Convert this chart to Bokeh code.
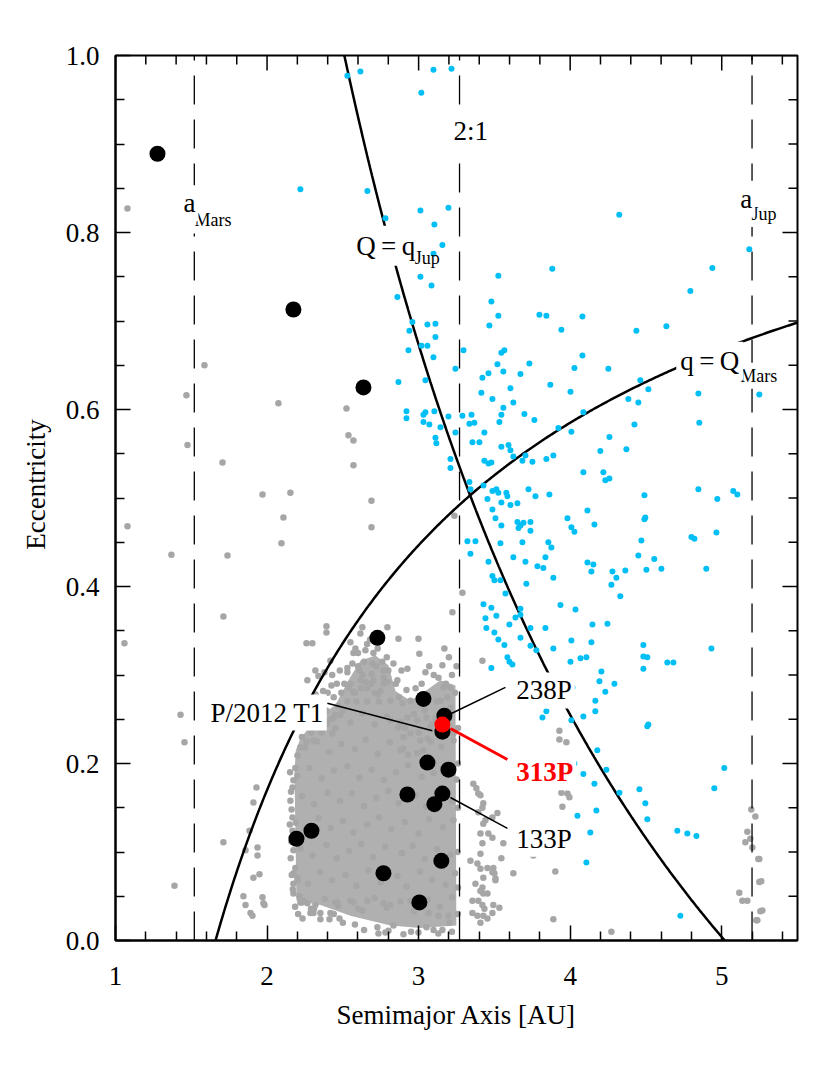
import numpy as np
from bokeh.plotting import figure
from bokeh.models import Range1d, FixedTicker, NumeralTickFormatter, Label
from bokeh.embed import file_html
from bokeh.resources import INLINE

FONT = "Liberation Serif"

# ---------------- data ----------------
A_MARS = 1.52
A_21 = 3.27
A_JUP = 5.2
Q_MARS = 1.66      # aphelion of Mars
Q_JUP_PERI = 5.02  # perihelion of Jupiter

x_major = [1, 2, 3, 4, 5]
x_minor = [1.2, 1.4, 1.6, 1.8, 2.2, 2.4, 2.6, 2.8, 3.2, 3.4, 3.6, 3.8,
           4.2, 4.4, 4.6, 4.8, 5.2, 5.4]
y_major = [0.0, 0.2, 0.4, 0.6, 0.8, 1.0]
y_minor = [0.05, 0.1, 0.15, 0.25, 0.3, 0.35, 0.45, 0.5, 0.55, 0.65, 0.7, 0.75,
           0.85, 0.9, 0.95]

# envelope of the densely populated main belt
core_a = [2.194, 2.181, 2.190, 2.220, 2.319, 2.451, 2.537, 2.616, 2.715, 2.801, 2.847, 2.946,
          3.045, 3.144, 3.243, 3.249, 3.012, 2.814, 2.550, 2.352]
core_e = [0.045, 0.190, 0.215, 0.228, 0.250, 0.266, 0.294, 0.316, 0.322, 0.311, 0.282, 0.271,
          0.282, 0.294, 0.288, 0.017, 0.014, 0.017, 0.028, 0.040]

gray_core = [
    (2.23, 0.043), (2.31, 0.036), (2.38, 0.047), (2.47, 0.039), (2.55, 0.045), (2.63, 0.034),
    (2.71, 0.048), (2.79, 0.037), (2.88, 0.044), (2.97, 0.033), (3.06, 0.046), (3.14, 0.038),
    (3.22, 0.049), (2.20, 0.071), (2.27, 0.064), (2.35, 0.077), (2.43, 0.068), (2.52, 0.074),
    (2.59, 0.062), (2.67, 0.079), (2.75, 0.066), (2.86, 0.073), (2.92, 0.061), (3.01, 0.078),
    (3.09, 0.069), (3.18, 0.063), (3.24, 0.076), (2.22, 0.104), (2.30, 0.096), (2.39, 0.108),
    (2.46, 0.093), (2.54, 0.101), (2.62, 0.109), (2.70, 0.094), (2.78, 0.106), (2.89, 0.099),
    (2.96, 0.107), (3.04, 0.092), (3.12, 0.103), (3.21, 0.097), (2.19, 0.133), (2.26, 0.124),
    (2.34, 0.138), (2.42, 0.127), (2.50, 0.135), (2.57, 0.122), (2.66, 0.131), (2.74, 0.139),
    (2.82, 0.126), (2.91, 0.134), (3.00, 0.121), (3.07, 0.137), (3.16, 0.128), (3.23, 0.136),
    (2.23, 0.163), (2.31, 0.154), (2.40, 0.167), (2.48, 0.158), (2.56, 0.166), (2.64, 0.152),
    (2.72, 0.161), (2.80, 0.169), (2.87, 0.155), (2.98, 0.164), (3.05, 0.151), (3.13, 0.168),
    (3.22, 0.157), (2.20, 0.186), (2.28, 0.195), (2.36, 0.183), (2.44, 0.192), (2.53, 0.197),
    (2.61, 0.184), (2.69, 0.193), (2.77, 0.181), (2.85, 0.190), (2.93, 0.198), (3.02, 0.185),
    (3.10, 0.189), (3.19, 0.196), (3.25, 0.182), (2.25, 0.218), (2.33, 0.225), (2.41, 0.213),
    (2.49, 0.222), (2.58, 0.216), (2.65, 0.227), (2.73, 0.211), (2.81, 0.224), (2.90, 0.217),
    (2.99, 0.212), (3.06, 0.228), (3.15, 0.219), (3.23, 0.226), (2.37, 0.248), (2.45, 0.255),
    (2.55, 0.246), (2.63, 0.257), (2.71, 0.244), (2.79, 0.253), (2.88, 0.247), (2.97, 0.256),
    (3.09, 0.245), (3.20, 0.251), (2.57, 0.281), (2.65, 0.292), (2.73, 0.278), (2.92, 0.283),
    (3.06, 0.277), (3.21, 0.286), (2.61, 0.305), (2.69, 0.301), (2.77, 0.297)]

gray_outer = [(1.079, 0.827), (1.468, 0.616), (1.475, 0.560), (1.079, 0.468), (1.369, 0.436),
              (1.059, 0.336), (1.429, 0.255), (1.455, 0.224), (1.389, 0.062), (1.587, 0.650),
              (1.706, 0.540), (1.739, 0.435), (1.712, 0.366), (2.075, 0.607), (1.970, 0.504),
              (2.154, 0.506), (2.108, 0.478), (2.095, 0.449), (2.524, 0.601), (2.537, 0.571),
              (2.570, 0.565), (2.570, 0.537), (2.689, 0.497), (2.689, 0.467)]

gray_inner_left = [(1.930, 0.173), (1.910, 0.156), (1.884, 0.124), (1.712, 0.111), (1.858, 0.102),
                   (1.937, 0.105), (1.937, 0.096), (1.910, 0.071), (1.950, 0.075), (1.844, 0.050),
                   (1.970, 0.049), (1.858, 0.040), (1.891, 0.031), (1.983, 0.040), (1.904, 0.028),
                   (1.976, 0.042)]

gray_band1 = [(2.392, 0.355), (2.392, 0.348), (2.299, 0.336), (2.260, 0.336), (2.418, 0.316),
              (2.319, 0.305), (2.339, 0.299), (2.379, 0.303), (2.266, 0.294), (2.425, 0.288),
              (2.530, 0.308), (2.220, 0.249), (2.266, 0.241), (2.319, 0.245), (2.352, 0.243),
              (2.398, 0.245), (2.438, 0.251), (2.484, 0.255), (2.431, 0.234), (2.306, 0.226),
              (2.220, 0.218), (2.201, 0.209), (2.187, 0.195), (2.174, 0.181), (2.168, 0.173),
              (2.154, 0.158), (2.168, 0.139), (2.168, 0.124), (2.174, 0.102), (2.187, 0.082),
              (2.201, 0.068), (2.174, 0.053), (2.220, 0.043), (2.266, 0.042), (2.319, 0.040),
              (2.352, 0.031), (2.418, 0.031), (2.464, 0.043), (2.286, 0.031), (2.23, 0.23),
              (2.26, 0.225), (2.29, 0.235), (2.33, 0.25), (2.36, 0.235), (2.39, 0.26),
              (2.42, 0.25), (2.45, 0.24), (2.47, 0.265), (2.44, 0.275), (2.40, 0.28),
              (2.35, 0.265), (2.30, 0.26), (2.49, 0.28), (2.46, 0.29), (2.50, 0.26),
              (2.234, 0.025), (2.352, 0.024), (2.412, 0.024), (2.478, 0.025), (2.174, 0.064),
              (2.174, 0.076), (2.214, 0.050), (2.240, 0.045), (2.152, 0.190), (2.158, 0.168),
              (2.162, 0.148), (2.150, 0.131), (2.160, 0.112), (2.156, 0.093), (2.163, 0.074),
              (2.170, 0.058), (2.185, 0.038), (2.205, 0.030), (2.27, 0.272), (2.32, 0.278),
              (2.37, 0.282), (2.43, 0.300), (2.48, 0.305), (2.51, 0.290), (2.25, 0.256)]

gray_band23 = [(3.223, 0.371), (2.629, 0.354), (2.550, 0.337), (2.616, 0.347), (2.583, 0.330),
               (2.649, 0.328), (2.702, 0.325), (2.794, 0.354), (2.867, 0.341), (2.999, 0.341),
               (3.005, 0.324), (2.926, 0.307), (2.887, 0.305), (3.045, 0.303), (3.131, 0.297),
               (3.157, 0.311), (3.164, 0.286), (3.190, 0.275), (2.834, 0.313), (2.768, 0.305),
               (2.695, 0.313), (2.563, 0.313), (2.530, 0.303), (2.616, 0.294), (2.702, 0.294),
               (2.794, 0.292), (2.860, 0.294), (2.537, 0.286), (2.662, 0.285), (2.748, 0.282),
               (2.814, 0.271), (2.893, 0.268), (2.946, 0.271), (2.992, 0.249), (2.926, 0.252),
               (2.867, 0.241), (2.814, 0.249), (2.946, 0.234), (3.012, 0.226), (3.052, 0.252),
               (3.078, 0.241), (3.144, 0.271), (3.210, 0.263), (3.230, 0.234), (3.236, 0.480),
               (3.289, 0.393), (3.421, 0.316), (2.55, 0.29), (2.58, 0.28), (2.60, 0.31),
               (2.63, 0.30), (2.66, 0.27), (2.69, 0.29), (2.72, 0.31), (2.74, 0.27),
               (2.77, 0.29), (2.79, 0.32), (2.57, 0.325), (2.68, 0.34), (2.76, 0.315),
               (2.64, 0.315), (2.71, 0.28), (2.59, 0.27), (2.53, 0.27), (2.62, 0.285),
               (2.90, 0.23), (2.93, 0.21), (3.00, 0.235), (3.03, 0.215), (3.08, 0.225),
               (3.10, 0.20), (2.88, 0.215), (2.91, 0.24), (3.04, 0.26), (3.11, 0.25),
               (3.12, 0.27), (3.18, 0.29), (3.22, 0.30), (3.24, 0.28), (3.26, 0.24),
               (3.25, 0.31), (3.20, 0.32), (3.17, 0.33), (2.85, 0.29), (2.87, 0.275),
               (2.98, 0.285), (3.02, 0.29), (3.07, 0.31), (3.10, 0.30), (3.26, 0.20),
               (3.26, 0.15), (3.257, 0.10), (3.26, 0.06), (3.258, 0.03), (2.66, 0.335),
               (2.60, 0.325), (2.73, 0.33), (2.80, 0.305)]

gray_bottom = [(2.728, 0.015), (2.781, 0.009), (2.801, 0.011), (2.900, 0.007), (2.999, 0.009),
               (3.052, 0.015), (3.098, 0.012), (3.157, 0.012), (3.203, 0.020), (2.834, 0.017),
               (2.735, 0.008), (2.570, 0.043), (2.603, 0.036), (2.662, 0.045), (2.768, 0.042),
               (2.814, 0.040), (2.946, 0.045), (3.065, 0.031), (3.131, 0.028), (3.197, 0.028),
               (2.306, 0.031), (2.451, 0.043), (2.50, 0.020), (2.58, 0.018), (2.64, 0.012),
               (2.44, 0.030), (2.29, 0.036), (2.95, 0.010), (3.13, 0.008), (3.22, 0.010)]

gray_beyond21 = [(3.929, 0.237), (3.929, 0.227), (3.975, 0.224), (3.988, 0.183), (3.942, 0.167),
                 (3.982, 0.166), (3.995, 0.162), (3.949, 0.151), (3.408, 0.164), (3.421, 0.150),
                 (3.427, 0.132), (3.441, 0.136), (3.559, 0.110), (3.408, 0.121), (3.421, 0.110),
                 (3.757, 0.096), (3.902, 0.099), (3.962, 0.103), (3.546, 0.093), (3.493, 0.082),
                 (3.507, 0.070), (3.487, 0.077), (3.625, 0.076), (3.902, 0.078), (3.427, 0.053),
                 (3.421, 0.060), (3.533, 0.037), (3.434, 0.036), (3.427, 0.028), (3.889, 0.024),
                 (4.272, 0.010), (3.361, 0.177), (3.381, 0.172), (3.394, 0.166), (3.427, 0.155),
                 (3.520, 0.144), (3.394, 0.145), (3.487, 0.139), (3.460, 0.121), (3.487, 0.116),
                 (3.408, 0.098), (3.388, 0.087), (3.454, 0.082), (3.427, 0.071), (3.500, 0.076),
                 (3.375, 0.064), (3.408, 0.056), (3.454, 0.053), (3.394, 0.045), (3.388, 0.028),
                 (3.408, 0.020), (3.493, 0.040), (3.487, 0.031), (3.507, 0.068), (3.342, 0.090),
                 (3.408, 0.081), (3.355, 0.045), (3.421, 0.040), (3.355, 0.031), (3.454, 0.025)]

gray_trojan = [(5.195, 0.148), (5.222, 0.140), (5.169, 0.123), (5.189, 0.115), (5.156, 0.111),
               (5.202, 0.105), (5.241, 0.092), (5.248, 0.092), (5.261, 0.067), (5.248, 0.066),
               (5.116, 0.054), (5.136, 0.045), (5.169, 0.045), (5.268, 0.034), (5.255, 0.033),
               (5.228, 0.023), (5.235, 0.023)]

blue_pts = [
    (2.530, 0.977), (2.616, 0.982), (3.018, 0.958), (3.098, 0.984), (3.217, 0.985),
    (2.220, 0.849), (2.662, 0.847), (2.781, 0.816), (3.012, 0.825), (3.197, 0.828),
    (3.104, 0.809), (3.157, 0.786), (3.098, 0.776), (4.324, 0.820), (5.182, 0.781),
    (3.012, 0.750), (3.085, 0.740), (2.860, 0.727), (3.526, 0.751), (3.882, 0.759),
    (4.938, 0.760), (4.793, 0.734), (3.480, 0.722), (2.959, 0.699), (2.939, 0.689),
    (3.058, 0.696), (3.111, 0.697), (3.111, 0.682), (3.526, 0.706), (3.467, 0.695),
    (3.797, 0.707), (3.843, 0.706), (3.942, 0.690), (4.081, 0.705), (4.437, 0.689),
    (4.635, 0.694), (2.933, 0.667), (3.019, 0.672), (3.058, 0.672), (3.098, 0.659),
    (3.296, 0.667), (3.546, 0.664), (3.566, 0.667), (3.520, 0.651), (3.559, 0.643),
    (3.731, 0.652), (4.081, 0.661), (4.028, 0.647), (4.252, 0.646), (3.243, 0.646),
    (2.867, 0.631), (3.045, 0.633), (3.421, 0.636), (3.461, 0.641), (3.672, 0.640),
    (3.869, 0.628), (3.606, 0.624), (4.002, 0.620), (4.463, 0.633), (4.516, 0.623),
    (4.384, 0.612), (4.450, 0.608), (4.846, 0.618), (5.248, 0.617), (3.414, 0.619),
    (3.487, 0.612), (3.625, 0.608), (3.559, 0.602), (3.546, 0.594), (2.920, 0.598),
    (2.920, 0.590), (3.032, 0.594), (3.045, 0.597), (3.104, 0.598), (3.197, 0.592),
    (3.032, 0.586), (3.071, 0.583), (3.144, 0.580), (3.289, 0.593), (3.349, 0.594),
    (3.335, 0.584), (3.368, 0.585), (3.434, 0.574), (3.533, 0.586), (3.698, 0.595),
    (3.764, 0.588), (3.922, 0.579), (4.008, 0.575), (4.087, 0.597), (4.424, 0.583),
    (4.852, 0.585), (4.259, 0.569), (3.111, 0.568), (3.117, 0.562), (3.243, 0.574),
    (3.355, 0.563), (3.401, 0.563), (3.546, 0.558), (3.593, 0.560), (3.606, 0.554),
    (3.210, 0.544), (3.210, 0.534), (3.434, 0.542), (3.461, 0.539), (3.480, 0.540),
    (3.625, 0.547), (3.685, 0.542), (3.705, 0.548), (3.751, 0.541), (3.843, 0.544),
    (3.889, 0.548), (4.199, 0.553), (4.371, 0.555), (4.087, 0.529), (4.219, 0.529),
    (4.232, 0.520), (4.259, 0.522), (3.335, 0.518), (3.342, 0.510), (3.428, 0.514),
    (3.487, 0.508), (3.513, 0.510), (3.526, 0.506), (3.579, 0.506), (3.586, 0.502),
    (3.725, 0.510), (3.771, 0.502), (3.863, 0.504), (3.454, 0.499), (3.546, 0.495),
    (3.606, 0.492), (3.652, 0.494), (3.487, 0.487), (3.507, 0.477), (3.546, 0.469),
    (3.652, 0.473), (3.672, 0.469), (3.659, 0.466), (3.692, 0.472), (3.738, 0.473),
    (3.738, 0.463), (3.982, 0.477), (4.008, 0.467), (4.028, 0.462), (4.114, 0.486),
    (4.160, 0.470), (4.490, 0.476), (4.496, 0.478), (4.470, 0.452), (4.800, 0.456),
    (4.820, 0.454), (4.965, 0.461), (4.490, 0.503), (4.846, 0.510), (4.971, 0.499),
    (5.076, 0.508), (5.103, 0.504), (3.540, 0.449), (3.322, 0.451), (3.375, 0.451),
    (3.342, 0.437), (3.685, 0.450), (3.856, 0.450), (3.876, 0.444), (3.837, 0.433),
    (3.625, 0.433), (3.705, 0.428), (3.784, 0.423), (3.823, 0.421), (4.114, 0.427),
    (4.153, 0.425), (4.140, 0.417), (4.279, 0.417), (4.305, 0.410), (4.364, 0.418),
    (4.450, 0.435), (4.555, 0.431), (4.503, 0.419), (4.602, 0.420), (4.898, 0.420),
    (3.461, 0.428), (3.487, 0.412), (3.500, 0.407), (3.540, 0.407), (3.711, 0.403),
    (3.889, 0.410), (4.272, 0.402), (3.573, 0.392), (3.672, 0.375), (4.331, 0.389),
    (3.428, 0.380), (3.480, 0.376), (3.441, 0.364), (3.513, 0.367), (3.639, 0.365),
    (3.672, 0.368), (3.936, 0.379), (4.035, 0.374), (3.447, 0.353), (3.599, 0.357),
    (3.738, 0.353), (3.837, 0.353), (4.147, 0.357), (4.246, 0.358), (3.500, 0.348),
    (3.526, 0.340), (3.566, 0.334), (3.672, 0.342), (3.738, 0.333), (4.008, 0.339),
    (4.140, 0.337), (4.483, 0.334), (4.932, 0.330), (3.599, 0.315), (3.586, 0.320),
    (3.619, 0.312), (3.777, 0.328), (3.889, 0.330), (4.002, 0.315), (4.068, 0.319),
    (4.107, 0.320), (4.483, 0.321), (4.509, 0.320), (4.641, 0.314), (4.681, 0.314),
    (4.483, 0.307), (3.480, 0.308), (4.206, 0.304), (4.193, 0.293), (4.292, 0.290),
    (4.015, 0.286), (4.232, 0.281), (4.166, 0.271), (4.166, 0.259), (3.804, 0.275),
    (3.843, 0.259), (3.817, 0.252), (4.087, 0.253), (4.008, 0.249), (4.516, 0.244),
    (4.509, 0.242), (4.179, 0.215), (4.028, 0.200), (4.239, 0.193), (4.087, 0.188),
    (4.160, 0.177), (4.325, 0.167), (4.457, 0.171), (4.496, 0.155), (4.509, 0.137),
    (4.173, 0.147), (4.048, 0.141), (4.133, 0.122), (4.707, 0.124), (4.773, 0.121),
    (4.833, 0.118), (4.951, 0.172), (5.017, 0.195), (4.107, 0.088), (4.727, 0.028)]

mbc_a = [1.277, 2.174, 2.636, 2.728, 3.032, 3.170, 3.157, 3.058, 3.197, 2.926, 3.157,
         3.104, 3.150, 2.768, 3.005, 2.194, 2.293]
mbc_e = [0.889, 0.713, 0.625, 0.342, 0.273, 0.254, 0.236, 0.201, 0.193, 0.165, 0.166,
         0.154, 0.090, 0.076, 0.043, 0.115, 0.124]
p313_a = [3.157]
p313_e = [0.244]

lead_black_x0 = [2.398, 3.216, 3.210]
lead_black_y0 = [0.268, 0.2565, 0.1616]
lead_black_x1 = [3.091, 3.573, 3.586]
lead_black_y1 = [0.237, 0.286, 0.1266]
lead_red_x = [3.210, 3.586]
lead_red_y = [0.2395, 0.2045]

# ---------------- figure ----------------
NB = "\u00a0"
p = figure(x_range=Range1d(1, 5.5), y_range=Range1d(0, 1),
           frame_width=682, frame_height=885,
           min_border_left=115, min_border_top=55, min_border_right=20, min_border_bottom=100,
           output_backend="svg", toolbar_location=None,
           x_axis_label="Semimajor Axis [AU]",
           y_axis_label=NB * 4 + "Eccentricity")
p.grid.visible = False
p.outline_line_color = "black"
p.outline_line_width = 2
p.background_fill_color = "white"
p.border_fill_color = "white"


def style_axis(ax):
    ax.axis_line_color = "black"
    ax.axis_line_width = 2
    ax.major_tick_in = 15
    ax.major_tick_out = 0
    ax.minor_tick_in = 9
    ax.minor_tick_out = 0
    ax.major_tick_line_width = 1.5
    ax.minor_tick_line_width = 1.5
    ax.major_tick_line_color = "black"
    ax.minor_tick_line_color = "black"
    ax.major_label_text_font = FONT
    ax.major_label_text_font_size = "27px"
    ax.major_label_text_color = "black"
    ax.axis_label_text_font = FONT
    ax.axis_label_text_font_size = "27px"
    ax.axis_label_text_font_style = "normal"
    ax.axis_label_text_color = "black"


xax = p.xaxis[0]
xax.ticker = FixedTicker(ticks=x_major, minor_ticks=x_minor)
style_axis(xax)
xax.major_label_standoff = 26
xax.axis_label_standoff = 12

yax = p.yaxis[0]
yax.ticker = FixedTicker(ticks=y_major, minor_ticks=y_minor)
yax.formatter = NumeralTickFormatter(format="0.0")
style_axis(yax)
yax.major_label_standoff = 16
yax.axis_label_standoff = 12

# inward ticks on the top and right frame edges
p.ray(x=x_major, y=[1] * len(x_major), length=15, length_units="screen",
      angle=-np.pi / 2, line_color="black", line_width=1.5)
p.ray(x=x_minor, y=[1] * len(x_minor), length=9, length_units="screen",
      angle=-np.pi / 2, line_color="black", line_width=1.5)
p.ray(x=[5.5] * len(y_major), y=y_major, length=15, length_units="screen",
      angle=np.pi, line_color="black", line_width=1.5)
p.ray(x=[5.5] * len(y_minor), y=y_minor, length=9, length_units="screen",
      angle=np.pi, line_color="black", line_width=1.5)

GRAY = "#a6a6a6"
CLOUD = "#b0b0b0"
BLUE = "#00bff5"

p.patch(core_a, core_e, fill_color=CLOUD, line_color=None)

gray_all = (gray_core + gray_outer + gray_inner_left + gray_band1 + gray_band23 +
            gray_bottom + gray_beyond21 + gray_trojan)
p.scatter([g[0] for g in gray_all], [g[1] for g in gray_all], size=6.5,
          fill_color=GRAY, line_color=None)

ca = np.linspace(Q_MARS, 5.5, 400)
p.line(ca, 1 - Q_MARS / ca, line_color="black", line_width=2.5)
cb = np.linspace(Q_JUP_PERI / 2, Q_JUP_PERI, 400)
p.line(cb, Q_JUP_PERI / cb - 1, line_color="black", line_width=2.5)

vl = [A_MARS, A_21, A_JUP]
p.segment(x0=vl, y0=[0, 0, 0], x1=vl, y1=[1, 1, 1], line_color="black",
          line_width=1.3, line_dash="29 15")

p.scatter([b[0] for b in blue_pts], [b[1] for b in blue_pts], size=6,
          fill_color=BLUE, line_color=None)

p.scatter(mbc_a, mbc_e, size=16, fill_color="black", line_color=None)

p.segment(x0=lead_black_x0, y0=lead_black_y0, x1=lead_black_x1, y1=lead_black_y1,
          line_color="black", line_width=1.5)
p.line(lead_red_x, lead_red_y, line_color="#ff0000", line_width=3)
p.scatter(p313_a, p313_e, size=16, fill_color="#ff0000", line_color=None)


def add_label(x, y, text, size=27, color="black", bold=False, bg=True, pad=3):
    lab = Label(x=x, y=y, text=text, text_font=FONT, text_font_size=f"{size}px",
                text_color=color, text_font_style="bold" if bold else "normal",
                text_baseline="alphabetic", text_align="left")
    if bg:
        lab.background_fill_color = "white"
        lab.padding = pad
    p.add_layout(lab)


TS = "\u2009"
add_label(1.501, 0.8136, "Mars", size=18)
add_label(1.429, 0.833, "a")
add_label(3.197, 0.915, "2:1", pad=5)
add_label(5.176, 0.821, "Jup", size=18)
add_label(5.103, 0.838, "a")
add_label(2.555, 0.785, "Q" + TS + "=" + TS + "q", pad=5)
add_label(2.975, 0.771, "Jup", size=18, bg=False)
add_label(5.103, 0.638, "Mars", size=18)
add_label(4.700, 0.655, "q" + TS + "=" + TS + "Q", pad=4)
add_label(1.607, 0.2576, "P/2012 T1")
add_label(3.625, 0.2825, "238P")
add_label(3.625, 0.190, "313P", color="#ff0000", bold=True)
add_label(3.625, 0.115, "133P")

open("out.html", "w").write(file_html(p, INLINE))
